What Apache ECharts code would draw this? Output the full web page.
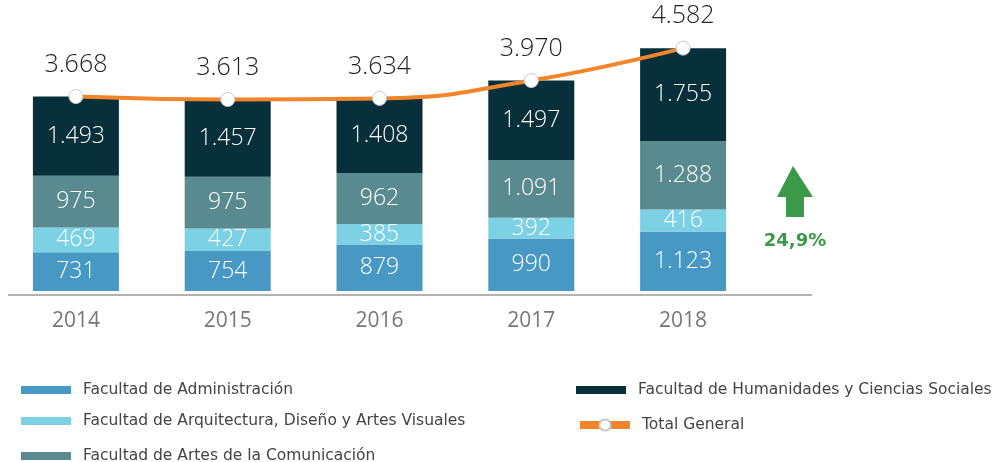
<!DOCTYPE html>
<html>
<head>
<meta charset="utf-8">
<script src="https://cdn.jsdelivr.net/npm/echarts@6/dist/echarts.min.js"></script>
<style>
  html, body { margin: 0; padding: 0; background: #fff; }
  #chart { width: 1001px; height: 462px; }
</style>
</head>
<body>
<div id="chart"></div>
<script>
const years = ['2014', '2015', '2016', '2017', '2018']
const administracion = [731, 754, 879, 990, 1123]
const arquitectura = [469, 427, 385, 392, 416]
const artes = [975, 975, 962, 1091, 1288]
const humanidades = [1493, 1457, 1408, 1497, 1755]
const totalGeneral = [3668, 3613, 3634, 3970, 4582]
const growthText = '24,9%'

const FONT = 'Open Sans'

const fmt = (v) => String(v).replace(/\B(?=(\d{3})+(?!\d))/g, '.')

const chart = echarts.init(document.getElementById('chart'))

const barSeries = (name, data, color) => ({
  name,
  type: 'bar',
  stack: 'total',
  data,
  barWidth: 86,
  itemStyle: { color },
  label: {
    show: true,
    position: 'inside',
    color: '#fff',
    fontFamily: FONT,
    fontSize: 23,
    fontWeight: 300,
    formatter: (p) => fmt(p.value),
  },
})

const legendAt = (name, left, top) => ({
  data: [{ name, icon: 'rect' }],
  left,
  top,
  padding: 0,
  itemWidth: 50,
  itemHeight: 8,
  itemGap: 0,
  selectedMode: false,
  textStyle: {
    color: '#444',
    fontFamily: 'DejaVu Sans',
    fontSize: 15.5,
    lineHeight: 20,
    padding: [0, 0, 0, 7],
  },
})

chart.setOption({
  animation: false,
  grid: { left: -1, width: 760, top: 26, bottom: 171 },
  xAxis: {
    type: 'category',
    data: years,
    axisLine: { show: false },
    axisTick: { show: false },
    axisLabel: { color: '#777', fontFamily: FONT, fontSize: 21, margin: 20 },
  },
  yAxis: {
    type: 'value',
    min: 0,
    max: 5000,
    show: false,
    splitLine: { show: false },
  },
  legend: [
    legendAt('Facultad de Administración', 21, 380),
    legendAt('Facultad de Arquitectura, Diseño y Artes Visuales', 21, 411),
    legendAt('Facultad de Artes de la Comunicación', 21, 446),
    legendAt('Facultad de Humanidades y Ciencias Sociales', 576, 380),
    Object.assign(legendAt('Total General', 576, 415), {
      data: ['Total General'],
      itemHeight: 14,
      lineStyle: { width: 8 },
    }),
  ],
  graphic: [
    {
      type: 'line',
      shape: { x1: 8, y1: 295, x2: 812, y2: 295 },
      style: { stroke: '#999', lineWidth: 1.5 },
    },
    {
      type: 'polygon',
      shape: {
        points: [[793, 166], [813, 197], [804, 197], [804, 217], [786, 217], [786, 197], [777, 197]],
      },
      style: { fill: '#3A9A48' },
    },
    {
      type: 'text',
      x: 795,
      y: 241,
      style: {
        text: growthText,
        fill: '#3A9A48',
        font: 'bold 18px "DejaVu Sans"',
        textAlign: 'center',
        textVerticalAlign: 'middle',
      },
    },
  ],
  series: [
    barSeries('Facultad de Administración', administracion, '#4898C4'),
    barSeries('Facultad de Arquitectura, Diseño y Artes Visuales', arquitectura, '#7DD1E4'),
    barSeries('Facultad de Artes de la Comunicación', artes, '#588A8F'),
    barSeries('Facultad de Humanidades y Ciencias Sociales', humanidades, '#07303B'),
    {
      name: 'Total General',
      type: 'line',
      data: totalGeneral,
      smooth: true,
      symbol: 'circle',
      symbolSize: 14,
      z: 5,
      lineStyle: { color: '#F2842A', width: 4 },
      itemStyle: { color: '#fff', borderColor: '#c8c8c8', borderWidth: 1 },
      label: {
        show: true,
        position: 'top',
        distance: 12,
        color: '#222',
        fontFamily: FONT,
        fontSize: 25,
        fontWeight: 300,
        formatter: (p) => fmt(p.value),
      },
    },
  ],
})
</script>
</body>
</html>
